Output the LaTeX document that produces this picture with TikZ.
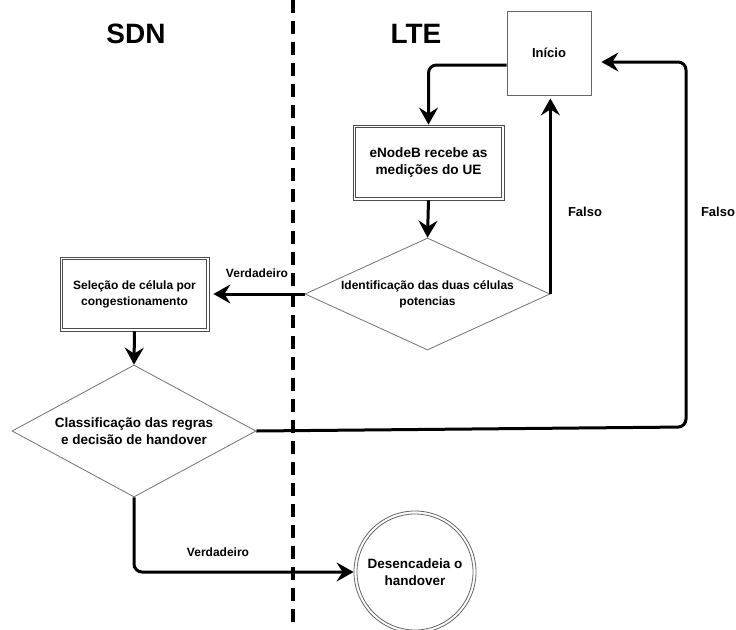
\documentclass[tikz,border=0pt]{standalone}
\usepackage{fontspec}
\setmainfont{Liberation Sans}
\usetikzlibrary{shapes.geometric,arrows.meta,calc}

\tikzset{
  flowtip/.tip={Stealth[length=17pt,width=19pt,inset=6pt]},
  flow/.style={line width=3pt, -flowtip},
  roundpath/.style={rounded corners=8pt},
  plainbox/.style={draw=black!60, line width=0.8pt, fill=white, align=center, font=\bfseries\fontsize{13}{16}\selectfont},
  dblbox/.style={draw=black!70, line width=0.8pt, fill=white, align=center, inner sep=0pt},
  innerline/.style={draw=black!70, line width=0.8pt},
  decision/.style={diamond, draw=black!55, line width=0.8pt, fill=white, align=center, inner sep=0pt},
  lbl/.style={font=\bfseries\fontsize{13}{16}\selectfont},
  smalllbl/.style={font=\bfseries\fontsize{12}{14}\selectfont},
  lane/.style={font=\bfseries\fontsize{28}{32}\selectfont}
}

\begin{document}
\begin{tikzpicture}[x=1pt,y=1pt]
\useasboundingbox (0,0) rectangle (736,-629);

% lane divider
\draw[line width=3.3pt, dash pattern=on 13pt off 8pt] (293,0) -- (293,-629);

% lane titles
\node[lane] (sdn) at (136,-34) {SDN};
\node[lane] (lte) at (416,-34) {LTE};

% process nodes
\node[plainbox, minimum width=84pt, minimum height=84pt, inner sep=0pt] (inicio) at (549,-53) {Início};
\node[dblbox, minimum width=151pt, minimum height=75pt, font=\bfseries\fontsize{13.6}{17.5}\selectfont] (enb) at (428.5,-162.5) {eNodeB recebe as\\medições do UE};
\draw[innerline] ([shift={(2.6pt,2.6pt)}]enb.south west) rectangle ([shift={(-2.6pt,-2.6pt)}]enb.north east);
\node[decision, aspect=2.19, minimum width=245pt, minimum height=112pt, font=\bfseries\fontsize{12}{16}\selectfont] (d1) at (427.5,-294) {Identificação das duas células\\potencias};
\node[dblbox, minimum width=149pt, minimum height=74pt, font=\bfseries\fontsize{12}{16}\selectfont] (sel) at (134.5,-294) {Seleção de célula por\\congestionamento};
\draw[innerline] ([shift={(2.6pt,2.6pt)}]sel.south west) rectangle ([shift={(-2.6pt,-2.6pt)}]sel.north east);
\node[decision, aspect=1.85, minimum width=244pt, minimum height=132pt, font=\bfseries\fontsize{13.5}{17}\selectfont] (d2) at (134,-431) {Classificação das regras\\e decisão de handover};
\node[circle, draw=black!60, line width=0.8pt, fill=white, minimum size=122pt, inner sep=0pt, align=center, font=\bfseries\fontsize{13.5}{17}\selectfont] (done) at (415,-572) {Desencadeia o\\handover};
\draw[innerline, draw=black!60] (done.center) circle[radius=58pt];

% turning points of the outer loop
\coordinate (loopbot) at (686,-427);
\coordinate (looptop) at (686,-62);

% connectors
\draw[flow, roundpath] ([yshift=-12pt]inicio.west) -| (enb.north);
\draw[flow] (enb.south) -- (d1.north);
\draw[flow, shorten >=3pt] (d1.east) -- (d1.east |- inicio.south);
\draw[flow, shorten >=4pt] (d1.west) -- (sel.east);
\draw[flow] (sel.south) -- (d2.north);
\draw[flow, roundpath, shorten >=10pt] (d2.east) -- (loopbot) -- (looptop) -- (inicio.east |- looptop);
\draw[flow, roundpath] (d2.south) |- (done.west);

% connector labels
\node[lbl] (falso1) at (585,-212) {Falso};
\node[lbl] (falso2) at (718,-212) {Falso};
\node[smalllbl] (verd1) at (257,-273) {Verdadeiro};
\node[smalllbl] (verd2) at (218,-552) {Verdadeiro};
\end{tikzpicture}
\end{document}
